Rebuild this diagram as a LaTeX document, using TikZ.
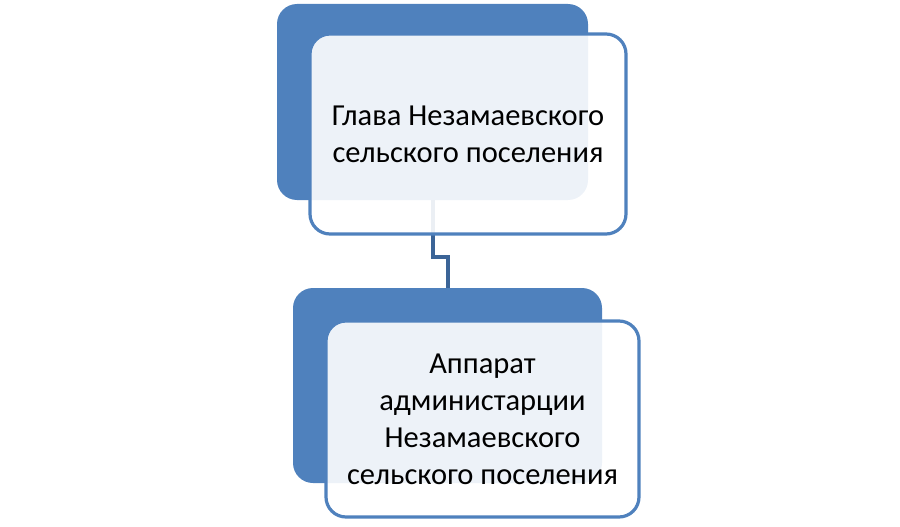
\documentclass[tikz,border=0pt]{standalone}
\usepackage{fontspec}
\setmainfont{Carlito}
\definecolor{acc}{HTML}{4F81BD}
\definecolor{conn}{HTML}{3B6497}
\begin{document}
\begin{tikzpicture}[x=1pt,y=-1pt,
  darkbox/.style={draw=none,fill=acc,rounded corners=20pt,inner sep=0pt},
  lightbox/.style={draw=acc,line width=3.2pt,fill=white,fill opacity=0.9,text opacity=1,rounded corners=20pt,inner sep=0pt,align=center,font=\fontsize{30.5}{37}\selectfont},
  connector/.style={draw=conn,line width=4pt}]
\useasboundingbox (0,0) rectangle (900,527);
% dark boxes
\node[darkbox,minimum width=311pt,minimum height=196pt] (d1) at (432.5,102) {};
\node[darkbox,minimum width=309pt,minimum height=195pt] (d2) at (447.5,385.5) {};
% connector
\coordinate (j) at (440,257);
\draw[connector] (d1.south) |- (j) -| (d2.north);
% light boxes
\node[lightbox,minimum width=316pt,minimum height=200pt] (t1) at (468,134) {Глава Незамаевского\\сельского поселения};
\node[lightbox,minimum width=313pt,minimum height=196pt] (t2) at (482.5,419) {Аппарат\\администарции\\Незамаевского\\сельского поселения};
\end{tikzpicture}
\end{document}
